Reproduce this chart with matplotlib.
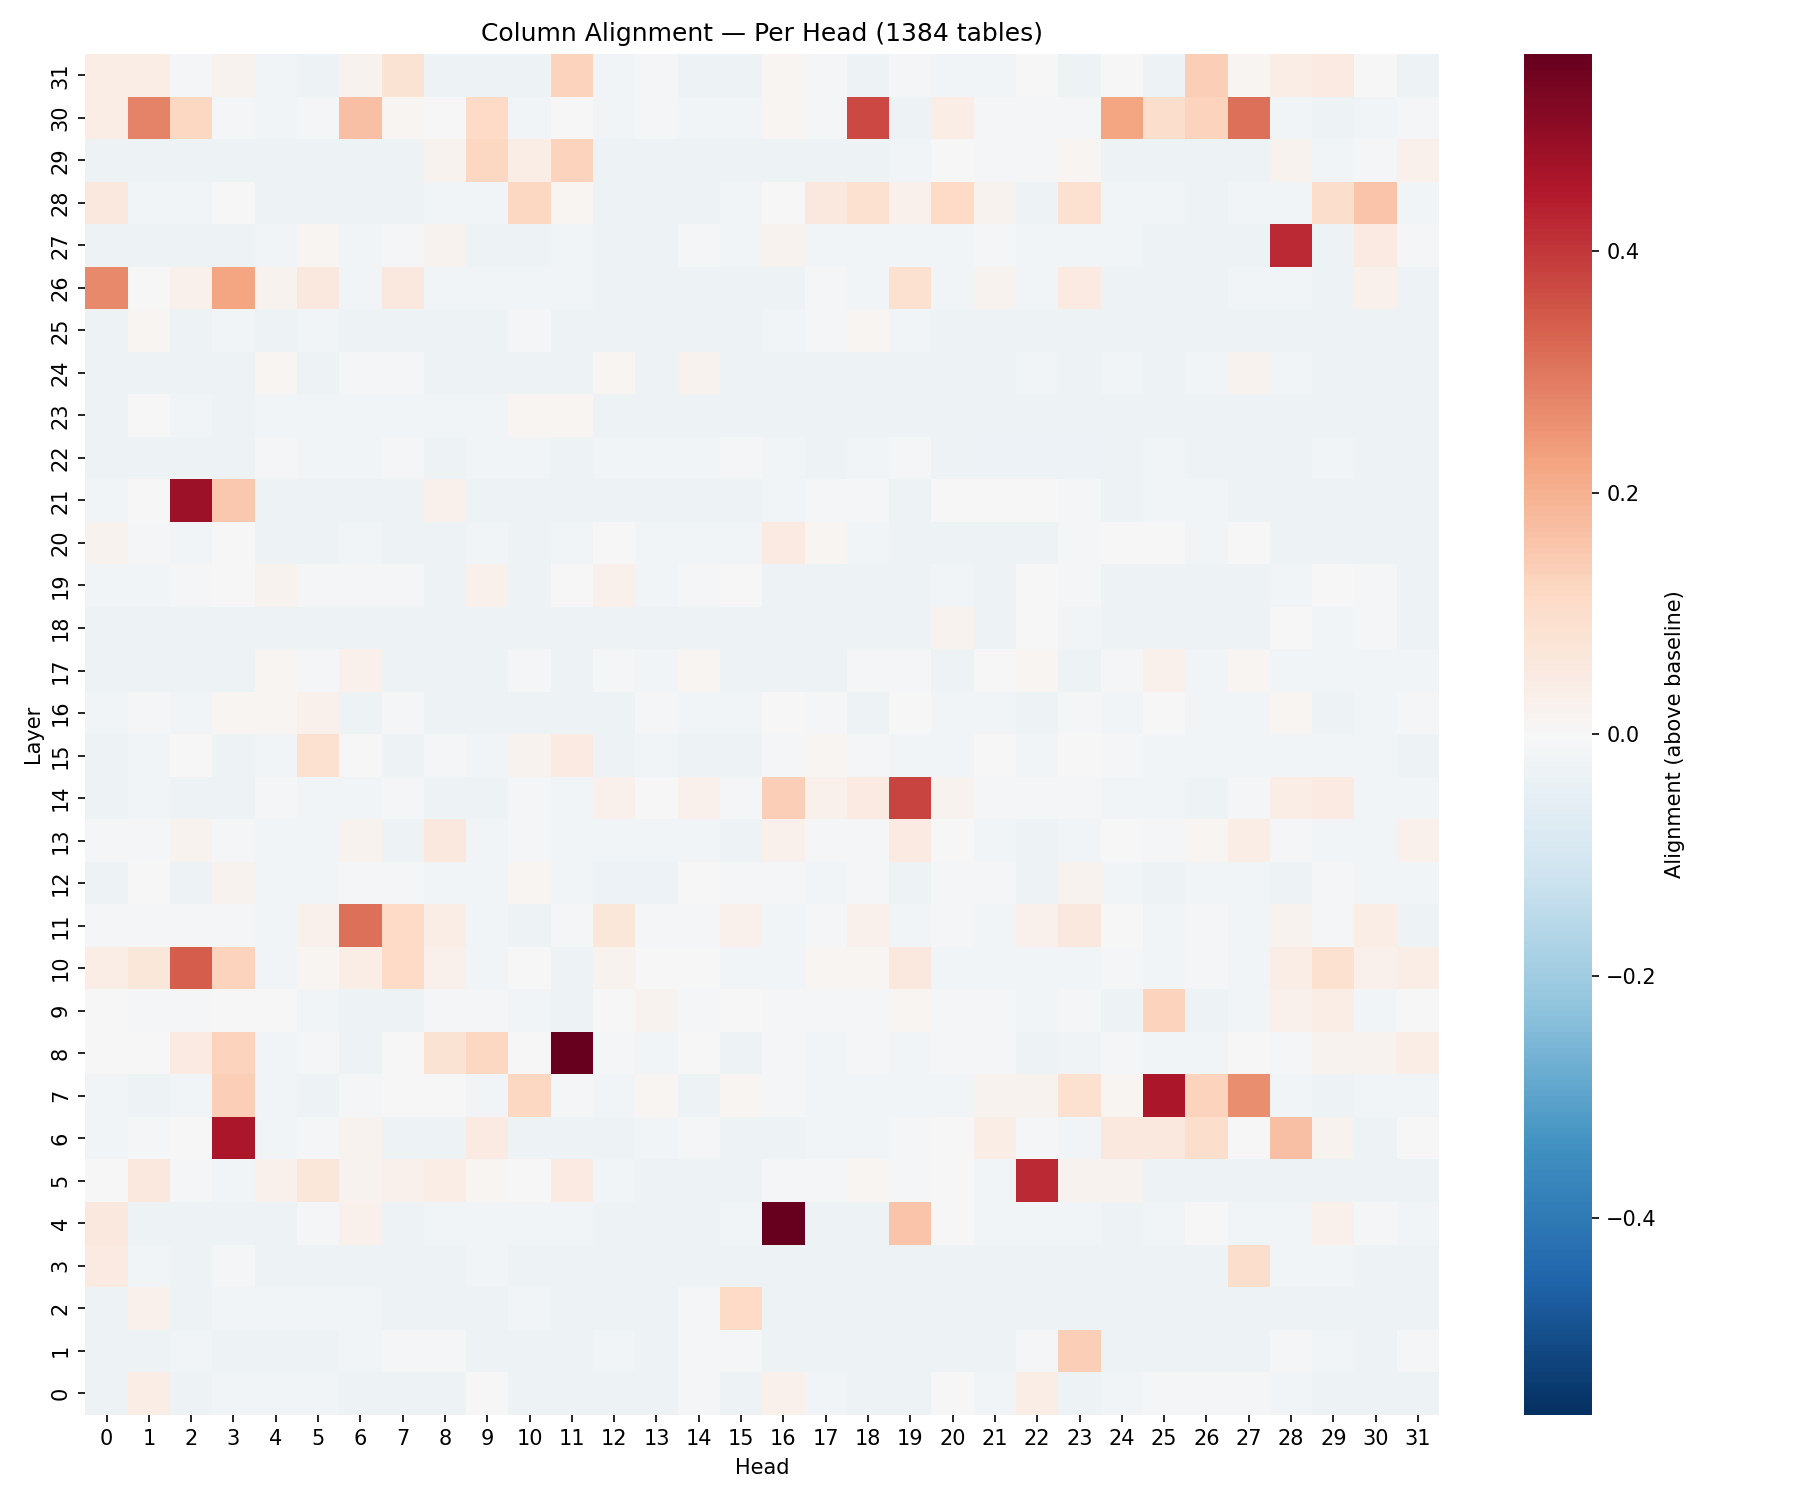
import numpy as np
import matplotlib
matplotlib.use("Agg")
import matplotlib.pyplot as plt
import seaborn as sns

n_tables = 1384
heads = list(range(32))
layers = list(range(32))
vlim = 0.563

# alignment above baseline, one list per layer (layer 0 first), 32 heads each
alignment = [
    [-0.03, 0.04, -0.03, -0.02, -0.02, -0.02, -0.03, -0.03, -0.03, 0.0, -0.03, -0.03, -0.03, -0.03, -0.01, -0.03,
     0.03, -0.02, -0.03, -0.03, 0.0, -0.02, 0.04, -0.03, -0.02, -0.01, -0.01, -0.01, -0.02, -0.03, -0.03, -0.03],
    [-0.03, -0.03, -0.02, -0.03, -0.03, -0.03, -0.02, -0.01, -0.01, -0.03, -0.03, -0.03, -0.02, -0.03, -0.01, -0.01,
     -0.03, -0.03, -0.03, -0.03, -0.03, -0.03, -0.01, 0.14, -0.03, -0.03, -0.03, -0.03, -0.01, -0.02, -0.03, -0.01],
    [-0.03, 0.03, -0.03, -0.02, -0.02, -0.02, -0.02, -0.03, -0.03, -0.03, -0.02, -0.03, -0.03, -0.03, -0.01, 0.11,
     -0.03, -0.03, -0.03, -0.03, -0.03, -0.03, -0.03, -0.03, -0.03, -0.03, -0.03, -0.03, -0.03, -0.03, -0.03, -0.03],
    [0.05, -0.02, -0.03, -0.01, -0.03, -0.03, -0.03, -0.03, -0.03, -0.02, -0.03, -0.03, -0.03, -0.03, -0.03, -0.03,
     -0.03, -0.03, -0.03, -0.03, -0.03, -0.03, -0.03, -0.03, -0.03, -0.03, -0.03, 0.10, -0.02, -0.02, -0.03, -0.03],
    [0.06, -0.03, -0.03, -0.03, -0.03, -0.01, 0.03, -0.03, -0.02, -0.02, -0.02, -0.02, -0.03, -0.03, -0.03, -0.02,
     0.563, -0.03, -0.03, 0.16, 0.0, -0.02, -0.02, -0.02, -0.03, -0.02, 0.0, -0.02, -0.02, 0.03, -0.01, -0.02],
    [0.0, 0.06, -0.01, -0.02, 0.03, 0.07, 0.02, 0.03, 0.04, 0.01, 0.0, 0.05, -0.02, -0.03, -0.03, -0.03,
     -0.01, -0.01, 0.01, -0.01, 0.0, -0.02, 0.42, 0.02, 0.02, -0.03, -0.03, -0.03, -0.03, -0.03, -0.03, -0.03],
    [-0.02, -0.01, 0.0, 0.46, -0.02, -0.01, 0.02, -0.03, -0.03, 0.05, -0.03, -0.03, -0.03, -0.02, -0.01, -0.03,
     -0.03, -0.02, -0.02, -0.01, 0.0, 0.04, -0.01, -0.02, 0.06, 0.06, 0.10, 0.0, 0.17, 0.02, -0.03, 0.0],
    [-0.02, -0.03, -0.02, 0.14, -0.02, -0.03, -0.01, 0.0, 0.0, -0.02, 0.12, -0.01, -0.02, 0.01, -0.03, 0.01,
     -0.01, -0.02, -0.02, -0.02, -0.02, 0.02, 0.02, 0.09, 0.01, 0.46, 0.13, 0.26, -0.02, -0.03, -0.02, -0.02],
    [0.0, 0.0, 0.05, 0.13, -0.02, -0.01, -0.03, 0.0, 0.08, 0.12, 0.0, 0.563, -0.01, -0.02, 0.0, -0.03,
     -0.01, -0.02, -0.01, -0.02, -0.01, -0.01, -0.03, -0.025, -0.01, -0.02, -0.02, 0.0, -0.01, 0.02, 0.02, 0.04],
    [0.0, -0.01, -0.01, 0.0, 0.0, -0.02, -0.03, -0.03, -0.01, -0.01, -0.02, -0.03, 0.0, 0.02, -0.01, 0.0,
     -0.01, -0.01, -0.01, 0.01, -0.01, -0.01, -0.02, -0.01, -0.03, 0.13, -0.03, -0.02, 0.03, 0.04, -0.02, 0.0],
    [0.04, 0.07, 0.34, 0.13, -0.02, 0.01, 0.04, 0.11, 0.03, -0.02, 0.0, -0.03, 0.02, 0.0, 0.0, -0.02,
     -0.02, 0.01, 0.01, 0.06, -0.02, -0.02, -0.02, -0.02, -0.01, -0.02, -0.01, -0.02, 0.04, 0.09, 0.03, 0.04],
    [-0.01, -0.01, -0.01, -0.01, -0.02, 0.03, 0.31, 0.11, 0.04, -0.02, -0.03, -0.01, 0.07, -0.01, -0.01, 0.03,
     -0.02, -0.01, 0.03, -0.02, -0.01, -0.02, 0.03, 0.06, 0.0, -0.02, -0.01, -0.02, 0.02, -0.01, 0.04, -0.03],
    [-0.03, 0.0, -0.03, 0.02, -0.02, -0.02, -0.01, -0.01, -0.02, -0.02, 0.01, -0.02, -0.035, -0.035, 0.0, -0.01,
     -0.01, -0.02, -0.01, -0.03, -0.01, -0.01, -0.03, 0.02, -0.02, -0.03, -0.02, -0.02, -0.03, -0.01, -0.02, -0.02],
    [-0.01, -0.01, 0.02, -0.01, -0.02, -0.02, 0.02, -0.03, 0.06, -0.02, -0.01, -0.02, -0.02, -0.02, -0.02, -0.03,
     0.03, -0.01, -0.01, 0.05, 0.0, -0.02, -0.03, -0.02, 0.0, -0.01, 0.01, 0.04, -0.01, -0.02, -0.02, 0.03],
    [-0.03, -0.02, -0.03, -0.03, -0.01, -0.02, -0.02, -0.01, -0.03, -0.03, -0.01, -0.02, 0.03, 0.0, 0.03, -0.01,
     0.14, 0.03, 0.05, 0.38, 0.02, -0.01, -0.01, -0.01, -0.02, -0.02, -0.03, -0.01, 0.04, 0.05, -0.02, -0.02],
    [-0.03, -0.02, 0.0, -0.03, -0.02, 0.09, 0.0, -0.03, -0.01, -0.02, 0.02, 0.05, -0.03, -0.02, -0.03, -0.03,
     -0.01, 0.01, -0.01, -0.02, -0.02, 0.0, -0.02, 0.0, -0.01, -0.02, -0.02, -0.02, -0.02, -0.02, -0.02, -0.03],
    [-0.02, -0.01, -0.02, 0.01, 0.01, 0.03, -0.03, -0.01, -0.03, -0.03, -0.03, -0.03, -0.03, -0.01, -0.02, -0.02,
     0.0, -0.01, -0.03, 0.0, -0.02, -0.02, -0.03, -0.01, -0.02, 0.0, -0.02, -0.02, 0.01, -0.03, -0.02, -0.01],
    [-0.03, -0.03, -0.03, -0.03, 0.01, -0.01, 0.03, -0.03, -0.03, -0.03, -0.01, -0.03, -0.01, -0.02, 0.01, -0.03,
     -0.03, -0.03, -0.01, -0.01, -0.03, 0.0, 0.01, -0.03, -0.01, 0.03, -0.02, 0.01, -0.02, -0.02, -0.02, -0.02],
    [-0.03, -0.03, -0.03, -0.03, -0.03, -0.03, -0.03, -0.03, -0.03, -0.03, -0.03, -0.03, -0.03, -0.03, -0.03, -0.03,
     -0.03, -0.03, -0.03, -0.03, 0.02, -0.03, 0.0, -0.02, -0.03, -0.03, -0.03, -0.03, 0.0, -0.02, -0.01, -0.03],
    [-0.02, -0.02, -0.01, 0.0, 0.02, -0.01, -0.01, -0.01, -0.03, 0.03, -0.03, 0.0, 0.03, -0.02, -0.01, 0.0,
     -0.03, -0.03, -0.03, -0.03, -0.02, -0.03, 0.0, -0.01, -0.03, -0.03, -0.03, -0.03, -0.02, 0.0, -0.01, -0.03],
    [0.02, -0.01, -0.02, 0.0, -0.03, -0.03, -0.02, -0.03, -0.03, -0.02, -0.03, -0.02, 0.0, -0.02, -0.02, -0.02,
     0.05, 0.01, -0.02, -0.03, -0.03, -0.03, -0.03, -0.01, 0.0, 0.0, -0.02, 0.0, -0.03, -0.03, -0.03, -0.03],
    [-0.02, 0.0, 0.48, 0.15, -0.03, -0.03, -0.03, -0.03, 0.03, -0.03, -0.03, -0.03, -0.03, -0.03, -0.03, -0.03,
     -0.02, -0.01, -0.01, -0.03, 0.0, 0.0, 0.0, -0.01, -0.03, -0.02, -0.02, -0.03, -0.03, -0.03, -0.03, -0.03],
    [-0.03, -0.03, -0.03, -0.03, -0.01, -0.02, -0.02, -0.01, -0.03, -0.02, -0.02, -0.03, -0.02, -0.02, -0.02, -0.01,
     -0.02, -0.03, -0.02, -0.01, -0.03, -0.035, -0.035, -0.035, -0.03, -0.02, -0.03, -0.03, -0.03, -0.02, -0.03, -0.03],
    [-0.03, 0.0, -0.02, -0.03, -0.02, -0.02, -0.02, -0.02, -0.02, -0.02, 0.01, 0.01, -0.03, -0.03, -0.03, -0.03,
     -0.03, -0.03, -0.03, -0.03, -0.03, -0.03, -0.03, -0.03, -0.03, -0.03, -0.03, -0.03, -0.03, -0.03, -0.03, -0.03],
    [-0.03, -0.03, -0.03, -0.03, 0.01, -0.03, -0.01, -0.01, -0.03, -0.03, -0.03, -0.03, 0.01, -0.03, 0.02, -0.03,
     -0.03, -0.03, -0.03, -0.03, -0.03, -0.03, -0.02, -0.03, -0.02, -0.03, -0.02, 0.02, -0.02, -0.03, -0.03, -0.03],
    [-0.03, 0.01, -0.03, -0.02, -0.03, -0.02, -0.03, -0.03, -0.03, -0.03, -0.01, -0.03, -0.03, -0.03, -0.03, -0.03,
     -0.02, -0.01, 0.01, -0.02, -0.03, -0.03, -0.03, -0.03, -0.03, -0.03, -0.03, -0.03, -0.03, -0.03, -0.03, -0.03],
    [0.27, 0.0, 0.03, 0.22, 0.02, 0.06, -0.02, 0.06, -0.02, -0.02, -0.02, -0.02, -0.03, -0.03, -0.03, -0.03,
     -0.03, -0.01, -0.02, 0.09, -0.02, 0.02, -0.02, 0.05, -0.03, -0.03, -0.03, -0.02, -0.02, -0.03, 0.03, -0.03],
    [-0.03, -0.03, -0.03, -0.03, -0.02, 0.01, -0.02, -0.01, 0.02, -0.03, -0.03, -0.02, -0.03, -0.03, -0.01, -0.02,
     0.02, -0.02, -0.02, -0.02, -0.02, -0.01, -0.02, -0.02, -0.02, -0.03, -0.03, -0.03, 0.42, -0.03, 0.05, -0.01],
    [0.06, -0.02, -0.02, 0.0, -0.03, -0.03, -0.03, -0.03, -0.02, -0.02, 0.12, 0.01, -0.03, -0.03, -0.03, -0.02,
     0.0, 0.06, 0.09, 0.03, 0.11, 0.02, -0.03, 0.09, -0.02, -0.02, -0.03, -0.02, -0.02, 0.10, 0.16, -0.02],
    [-0.03, -0.03, -0.03, -0.03, -0.03, -0.03, -0.03, -0.03, 0.02, 0.12, 0.04, 0.13, -0.03, -0.03, -0.03, -0.03,
     -0.03, -0.03, -0.03, -0.02, 0.0, -0.01, -0.01, 0.01, -0.03, -0.03, -0.03, -0.03, 0.02, -0.02, -0.01, 0.03],
    [0.04, 0.28, 0.12, -0.01, -0.02, -0.01, 0.17, 0.01, 0.0, 0.11, -0.02, 0.0, -0.02, -0.01, -0.02, -0.02,
     0.01, -0.01, 0.37, -0.03, 0.04, -0.01, -0.01, -0.01, 0.22, 0.10, 0.13, 0.31, -0.02, -0.03, -0.02, -0.01],
    [0.04, 0.04, -0.01, 0.02, -0.02, -0.03, 0.02, 0.08, -0.03, -0.03, -0.03, 0.13, -0.02, -0.01, -0.03, -0.03,
     0.01, -0.01, -0.03, -0.01, -0.02, -0.02, 0.0, -0.03, 0.0, -0.03, 0.14, 0.01, 0.04, 0.05, 0.0, -0.03],
]

data = np.array(alignment)

fig, ax = plt.subplots(figsize=(12, 10), dpi=150)
sns.heatmap(data, ax=ax, cmap="RdBu_r", center=0, vmin=-vlim, vmax=vlim,
            xticklabels=heads, yticklabels=layers,
            cbar_kws={"label": "Alignment (above baseline)"})
ax.invert_yaxis()
ax.set_title(f"Column Alignment \u2014 Per Head ({n_tables} tables)")
ax.set_xlabel("Head")
ax.set_ylabel("Layer")

plt.tight_layout()
plt.savefig("out.png", dpi=150)
